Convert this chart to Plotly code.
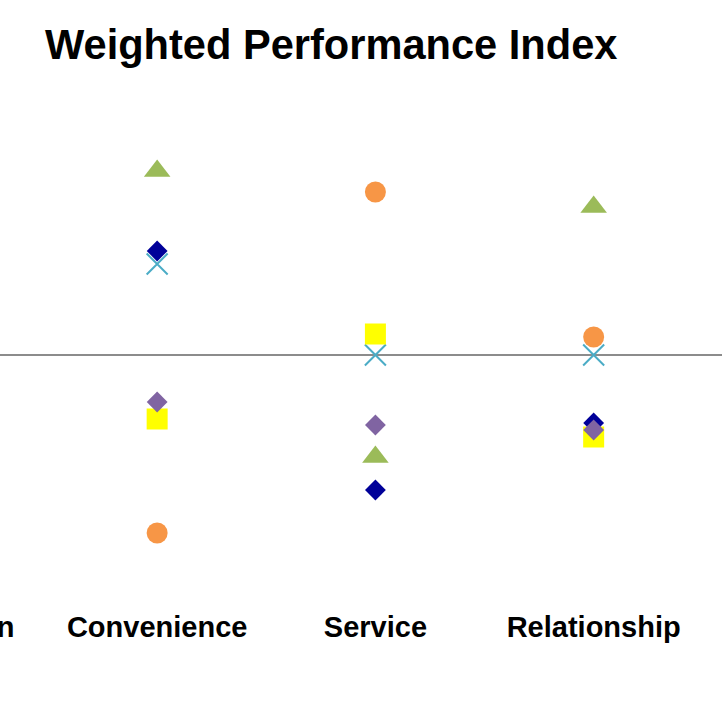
import plotly.graph_objects as go

# ---- data (the first category lies outside the crop) ----
categories = ["Reputation", "Convenience", "Service", "Relationship"]

series_names = ["Segment 1", "Segment 2", "Segment 3", "Segment 4", "Segment 5", "Segment 6"]
seg_xmark = [None, 0.91, 0.00, 0.00]      # light blue x
seg_square = [None, -0.64, 0.21, -0.82]   # yellow square
seg_navy = [None, 1.04, -1.35, -0.68]     # dark blue diamond
seg_purple = [None, -0.47, -0.70, -0.75]  # purple diamond
seg_circle = [None, -1.78, 1.63, 0.18]    # orange circle
seg_tri = [None, 1.84, -1.02, 1.48]       # green triangle

title_text = "Weighted Performance Index"

# ---- layout constants ----
X_RANGE = [0.28, 3.588]
Y_RANGE = [-2.4, 2.6]
W = H = 722
M_T, M_B = 95, 127
FONT = "Liberation Sans, Arial, Helvetica, sans-serif"
TICK_SIZE = 29
LABEL_STANDOFF = 12

styles = [
    (seg_xmark, dict(symbol="x-thin", size=21, color="#4bacc6", line=dict(color="#4bacc6", width=2))),
    (seg_square, dict(symbol="square", size=21, color="#ffff00")),
    (seg_navy, dict(symbol="diamond", size=16, color="#000099")),
    (seg_purple, dict(symbol="diamond", size=16, color="#8064a2")),
    (seg_circle, dict(symbol="circle", size=21, color="#f79646")),
    (seg_tri, dict(symbol="triangle-up", size=23, color="#9bbb59")),
]

fig = go.Figure()
for name, (vals, mk) in zip(series_names, styles):
    fig.add_trace(go.Scatter(x=categories, y=vals, mode="markers", name=name,
                             marker=mk, hoverinfo="skip"))

zero_pos = (0 - Y_RANGE[0]) / (Y_RANGE[1] - Y_RANGE[0])

fig.update_layout(
    width=W, height=H,
    margin=dict(l=0, r=0, t=M_T, b=M_B, pad=0),
    paper_bgcolor="white", plot_bgcolor="white",
    showlegend=False,
    title=dict(text=title_text, x=45 / W, xanchor="left", xref="container",
               y=1 - 44 / H, yanchor="middle", yref="container",
               font=dict(family=FONT, size=41.6, color="black", weight="bold")),
    xaxis=dict(type="category", categoryorder="array", categoryarray=categories,
               range=X_RANGE, showline=False, showgrid=False, zeroline=False,
               ticks="", ticklabelstandoff=LABEL_STANDOFF,
               tickfont=dict(family=FONT, size=TICK_SIZE, color="black", weight="bold"),
               fixedrange=True),
    xaxis2=dict(type="category", categoryorder="array", categoryarray=categories,
                overlaying="x", matches="x", anchor="free", position=zero_pos,
                showline=False, showgrid=False, zeroline=False, showticklabels=False,
                ticks="outside", ticklen=6, tickwidth=3, tickcolor="#b8b8b8"),
    yaxis=dict(range=Y_RANGE, showgrid=False, showticklabels=False, showline=False,
               zeroline=True, zerolinecolor="#8c8c8c", zerolinewidth=2, fixedrange=True),
)

# left category label, only partly inside the crop
fig.add_annotation(text=categories[0], xref="paper", yref="paper",
                   x=(0 - X_RANGE[0]) / (X_RANGE[1] - X_RANGE[0]), y=0,
                   xanchor="center", yanchor="top", yshift=-LABEL_STANDOFF - 2, showarrow=False,
                   font=dict(family=FONT, size=TICK_SIZE, color="black", weight="bold"))

fig.write_html("out.html", config={"displayModeBar": False},
               post_script="document.body.style.margin='0';")
